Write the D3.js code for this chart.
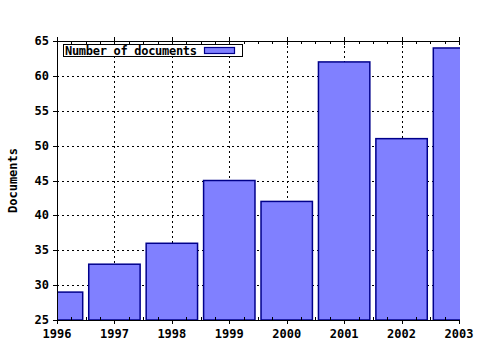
<!DOCTYPE html>
<html><head><meta charset="utf-8">
<script src="https://cdn.jsdelivr.net/npm/d3@7"></script>
<style>body{margin:0;background:#fff}</style>
</head><body>
<script>
const years = [1996, 1997, 1998, 1999, 2000, 2001, 2002, 2003];
const documents = [29, 33, 36, 45, 42, 62, 51, 64];
const yTicks = [25, 30, 35, 40, 45, 50, 55, 60, 65];
const seriesName = "Number of documents";
const yLabel = "Documents";

const W = 480, H = 350;
const L = 57, R = 459, T = 41, B = 320;
const font = "'DejaVu Sans Mono', monospace";

const svg = d3.select("body").append("svg").attr("width", W).attr("height", H)
  .style("display","block");

const x = d3.scaleLinear().domain([1996, 2003]).range([L, R]);
const y = d3.scaleLinear().domain([25, 65]).range([B, T]);
const bw = (x(1997) - x(1996)) * 0.895;

svg.append("defs").append("clipPath").attr("id","plot")
  .append("rect").attr("x", L).attr("y", T).attr("width", R - L + 1).attr("height", B - T);

// grid
const grid = svg.append("g").attr("stroke","#000").attr("stroke-width",1)
  .attr("stroke-dasharray","2,3").attr("shape-rendering","crispEdges");
grid.selectAll("line.h").data(yTicks.slice(1, -1)).enter().append("line")
  .attr("x1", L).attr("x2", R).attr("y1", d => Math.round(y(d)) + 0.5).attr("y2", d => Math.round(y(d)) + 0.5);
grid.selectAll("line.v").data(years.slice(1, -1)).enter().append("line")
  .attr("y1", T).attr("y2", B).attr("x1", d => Math.round(x(d)) + 0.5).attr("x2", d => Math.round(x(d)) + 0.5);

// bars
svg.append("g").attr("clip-path","url(#plot)").selectAll("rect").data(years).enter().append("rect")
  .attr("x", d => x(d) - bw / 2)
  .attr("width", bw)
  .attr("y", (d, i) => y(documents[i]))
  .attr("height", (d, i) => B - y(documents[i]))
  .attr("fill","#8080ff").attr("stroke","#00008b").attr("stroke-width",1.5);

// axes
const ax = svg.append("g").attr("stroke","#000").attr("stroke-width",1).attr("shape-rendering","crispEdges");
ax.append("line").attr("x1", L - 3).attr("x2", R + 1).attr("y1", B + 0.5).attr("y2", B + 0.5);
ax.append("line").attr("x1", L - 3).attr("x2", R + 1).attr("y1", T + 0.5).attr("y2", T + 0.5);
ax.append("line").attr("x1", L + 0.5).attr("x2", L + 0.5).attr("y1", T - 4).attr("y2", B + 4);

// y ticks
ax.selectAll("line.yt").data(yTicks).enter().append("line")
  .attr("x1", L - 4).attr("x2", L).attr("y1", d => Math.round(y(d)) + 0.5).attr("y2", d => Math.round(y(d)) + 0.5);

// x major ticks
ax.selectAll("line.xtb").data(years).enter().append("line")
  .attr("x1", d => Math.round(x(d)) + 0.5).attr("x2", d => Math.round(x(d)) + 0.5)
  .attr("y1", B).attr("y2", B + 4);
ax.selectAll("line.xtt").data(years).enter().append("line")
  .attr("x1", d => Math.round(x(d)) + 0.5).attr("x2", d => Math.round(x(d)) + 0.5)
  .attr("y1", T - 4).attr("y2", T + 4);
// x minor ticks
const minor = d3.range(1996, 2003.001, 0.25).filter(v => Math.abs(v - Math.round(v)) > 0.01);
ax.selectAll("line.mb").data(minor).enter().append("line")
  .attr("x1", d => Math.round(x(d)) + 0.5).attr("x2", d => Math.round(x(d)) + 0.5)
  .attr("y1", B - 3).attr("y2", B);
ax.selectAll("line.mt").data(minor).enter().append("line")
  .attr("x1", d => Math.round(x(d)) + 0.5).attr("x2", d => Math.round(x(d)) + 0.5)
  .attr("y1", T).attr("y2", T + 3);

// tick labels
svg.append("g").selectAll("text").data(yTicks).enter().append("text")
  .attr("x", L - 8).attr("y", d => y(d) + 4).attr("text-anchor","end")
  .attr("font-family", font).attr("font-weight","bold").attr("font-size", 12).text(d => d);
svg.append("g").selectAll("text").data(years).enter().append("text")
  .attr("x", d => x(d)).attr("y", B + 18).attr("text-anchor","middle")
  .attr("font-family", font).attr("font-weight","bold").attr("font-size", 12).text(d => d);

// y label
svg.append("text").attr("transform", `translate(17,${(T + B) / 2}) rotate(-90)`)
  .attr("text-anchor","middle").attr("font-family", font).attr("font-weight","bold")
  .attr("font-size", 12).text(yLabel);

// legend
const lg = svg.append("g");
lg.append("rect").attr("x", 63.5).attr("y", 44.5).attr("width", 179).attr("height", 12)
  .attr("fill","#fff").attr("stroke","#000").attr("stroke-width",1);
lg.append("text").attr("x", 65).attr("y", 54.5).attr("font-family", font).attr("font-weight","bold")
  .attr("font-size", 12).attr("textLength", 132).text(seriesName);
lg.append("rect").attr("x", 204.5).attr("y", 47.5).attr("width", 30).attr("height", 6)
  .attr("fill","#8080ff").attr("stroke","#00008b").attr("stroke-width",1.2);
</script>
</body></html>
